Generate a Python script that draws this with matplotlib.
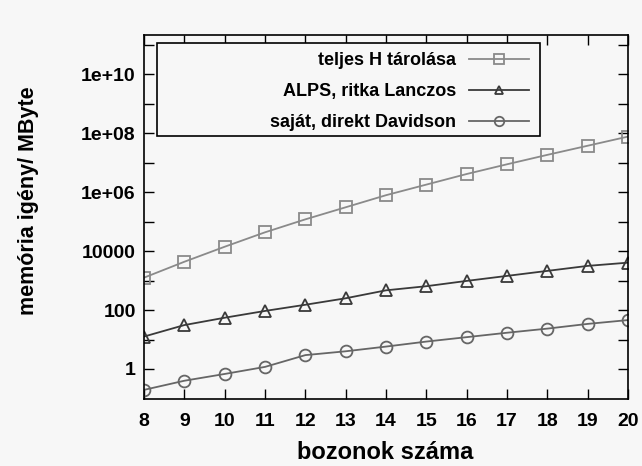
import numpy as np
import matplotlib
matplotlib.use("Agg")
import matplotlib.pyplot as plt
from matplotlib.ticker import FixedLocator, FuncFormatter
from matplotlib.patches import Rectangle

bosons = [8, 9, 10, 11, 12, 13, 14, 15, 16, 17, 18, 19, 20]
# log10 of memory requirement (MByte)
full_H_log = [3.10, 3.64, 4.15, 4.64, 5.08, 5.49, 5.90, 6.26, 6.62, 6.95, 7.27, 7.58, 7.89]
alps_log = [1.10, 1.49, 1.74, 1.97, 2.18, 2.40, 2.67, 2.81, 2.99, 3.16, 3.33, 3.50, 3.61]
own_log = [-0.71, -0.40, -0.17, 0.07, 0.47, 0.60, 0.76, 0.93, 1.08, 1.23, 1.37, 1.53, 1.66]

full_H = [10 ** v for v in full_H_log]
alps = [10 ** v for v in alps_log]
own = [10 ** v for v in own_log]

labels = ["teljes H tárolása", "ALPS, ritka Lanczos", "saját, direkt Davidson"]
ytick_labels = {0: "1", 2: "100", 4: "10000", 6: "1e+06", 8: "1e+08", 10: "1e+10"}

plt.rcParams["font.family"] = ["Liberation Sans", "DejaVu Sans"]
plt.rcParams["font.weight"] = "bold"

W, H = 642, 466
bg = "#f7f7f7"
fig = plt.figure(figsize=(W / 100, H / 100), dpi=100, facecolor=bg)
ax = fig.add_axes([144 / W, 1 - 399 / H, 484 / W, 364 / H], facecolor=bg)

ax.plot(bosons, full_H, color="#8a8a8a", lw=1.3, marker="s", ms=8.5, mfc="none",
        mec="#8a8a8a", mew=1.3, label=labels[0])
ax.plot(bosons, alps, color="#3a3a3a", lw=1.3, marker="^", ms=8, mfc="none",
        mec="#3a3a3a", mew=1.3, label=labels[1])
ax.plot(bosons, own, color="#666666", lw=1.3, marker="o", ms=8.5, mfc="none",
        mec="#666666", mew=1.3, label=labels[2])

ax.set_yscale("log")
ax.set_xlim(8, 20)
ax.set_ylim(10 ** -1.02, 10 ** 11.34)
ax.set_xticks(bosons)
ax.set_xticklabels([str(b) for b in bosons])
ax.yaxis.set_major_locator(FixedLocator([10.0 ** k for k in range(0, 12)]))
ax.yaxis.set_minor_locator(FixedLocator([]))
ax.yaxis.set_major_formatter(FuncFormatter(
    lambda v, p: ytick_labels.get(int(round(np.log10(v))), "")))

ax.tick_params(axis="both", which="both", direction="in", top=True, right=True,
               length=7, width=1, labelsize=14)
ax.tick_params(axis="x", pad=10)
ax.tick_params(axis="y", pad=6)
for lab in ax.get_xticklabels() + ax.get_yticklabels():
    lab.set_fontweight("bold")
for s in ax.spines.values():
    s.set_linewidth(1.2)
    s.set_color("black")

ax.set_xlabel("bozonok száma", fontsize=17, fontweight="bold", va="top")
ax.xaxis.set_label_coords(0.499, (399 - 441) / 364)
ax.set_ylabel("memória igény/ MByte", fontsize=15.5, fontweight="bold")
ax.yaxis.set_label_coords((39 - 144) / 484, (399 - 201) / 364)

# legend (frame drawn separately, as in the original the box is wider than its text)
frame = Rectangle((157 / W, 1 - 136 / H), (540 - 157) / W, (136 - 43) / H,
                  transform=fig.transFigure, fill=True, facecolor=bg,
                  edgecolor="black", lw=1.2, zorder=2.5, clip_on=False)
ax.add_artist(frame)
leg = ax.legend(loc="upper right", bbox_to_anchor=(529 / W, 1 - 52 / H),
                bbox_transform=fig.transFigure, markerfirst=False,
                frameon=False, prop={"size": 13, "weight": "bold"},
                handlelength=3.3, borderpad=0.0, labelspacing=0.78,
                handletextpad=0.75, borderaxespad=0, markerscale=0.8)
leg.set_zorder(5)

fig.savefig("out.png", dpi=100, facecolor=bg)
